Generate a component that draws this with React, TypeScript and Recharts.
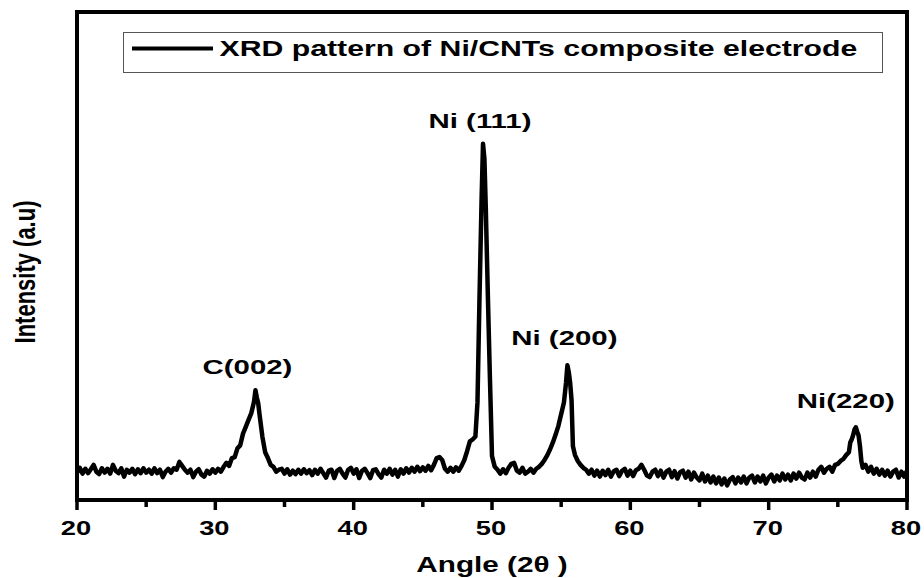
import React from 'react';
import {
    LineChart,
    Line,
    XAxis,
    YAxis,
    Legend,
    ReferenceArea,
    ReferenceDot
} from 'recharts';

// Diffractogram split into scan segments: [2θ (deg), intensity (a.u.)]
const baselineLow: [number, number][] = [
    [20.0, 56], [20.2, 66], [20.4, 54], [20.6, 64], [20.8, 55], [21.0, 63], [21.2, 72], [21.4, 58],
    [21.6, 53], [21.8, 65], [22.0, 56], [22.2, 64], [22.4, 54], [22.6, 72], [22.8, 60], [23.0, 55],
    [23.2, 65], [23.4, 48], [23.6, 62], [23.8, 56], [24.0, 64], [24.2, 53], [24.4, 63], [24.6, 55],
    [24.8, 65], [25.0, 56], [25.2, 62], [25.4, 54], [25.6, 65], [25.8, 55], [26.0, 62], [26.2, 47],
    [26.4, 58], [26.6, 64], [26.8, 56], [27.0, 65], [27.2, 62], [27.4, 78], [27.6, 70], [27.8, 62],
    [28.0, 56], [28.2, 62], [28.4, 47], [28.6, 58], [28.8, 63], [29.0, 52], [29.2, 48], [29.4, 60],
    [29.6, 54], [29.8, 63], [30.0, 56], [30.2, 64], [30.4, 58]
];

const carbonPeak: [number, number][] = [
    [30.6, 68], [30.8, 76], [31.0, 70], [31.2, 86], [31.4, 88], [31.6, 106], [31.8, 112], [32.0, 136],
    [32.2, 150], [32.4, 164], [32.6, 178], [32.8, 202], [32.9, 225], [33.0, 210], [33.1, 198], [33.2, 174],
    [33.4, 130], [33.6, 98], [33.8, 86], [34.0, 72], [34.2, 68], [34.4, 58], [34.6, 62]
];

const baselineMid: [number, number][] = [
    [34.8, 64], [35.0, 54], [35.2, 63], [35.4, 52], [35.6, 60], [35.8, 53], [36.0, 62], [36.2, 54],
    [36.4, 63], [36.6, 55], [36.8, 61], [37.0, 51], [37.2, 62], [37.4, 54], [37.6, 64], [37.8, 55],
    [38.0, 46], [38.2, 60], [38.4, 62], [38.6, 45], [38.8, 60], [39.0, 64], [39.2, 54], [39.4, 46],
    [39.6, 62], [39.8, 66], [40.0, 54], [40.2, 63], [40.4, 45], [40.6, 60], [40.8, 64], [41.0, 55],
    [41.2, 45], [41.4, 61], [41.6, 63], [41.8, 53], [42.0, 46], [42.2, 62], [42.4, 54], [42.6, 64],
    [42.8, 52], [43.0, 62], [43.2, 48], [43.4, 63], [43.6, 54], [43.8, 65], [44.0, 56], [44.2, 66],
    [44.4, 58], [44.6, 68], [44.8, 59], [45.0, 67], [45.2, 60], [45.4, 70], [45.6, 61], [45.8, 72],
    [46.0, 86], [46.2, 88], [46.4, 82], [46.6, 64], [46.8, 58], [47.0, 66], [47.2, 58], [47.4, 67],
    [47.6, 60], [47.8, 70]
];

const nickel111: [number, number][] = [
    [48.0, 82], [48.2, 100], [48.4, 120], [48.6, 124], [48.8, 130], [48.95, 200], [49.1, 420], [49.25, 620],
    [49.35, 730], [49.45, 700], [49.55, 600], [49.7, 420], [49.85, 250], [50.0, 90], [50.2, 68], [50.4, 62],
    [50.6, 54], [50.8, 63], [51.0, 55], [51.2, 66], [51.4, 74], [51.6, 76], [51.8, 60], [52.0, 56],
    [52.2, 66], [52.4, 54], [52.6, 58], [52.8, 64], [53.0, 56], [53.2, 64]
];

const nickel200: [number, number][] = [
    [53.4, 68], [53.6, 74], [53.8, 82], [54.0, 92], [54.2, 104], [54.4, 118], [54.6, 134], [54.8, 152],
    [55.0, 176], [55.2, 200], [55.35, 240], [55.45, 276], [55.55, 262], [55.65, 240], [55.75, 205], [55.85, 110],
    [56.0, 92], [56.2, 80], [56.4, 72], [56.6, 66], [56.8, 62]
];

const baselineHigh: [number, number][] = [
    [57.0, 54], [57.2, 62], [57.4, 50], [57.6, 60], [57.8, 48], [58.0, 60], [58.2, 51], [58.4, 62],
    [58.6, 48], [58.8, 59], [59.0, 62], [59.2, 49], [59.4, 60], [59.6, 64], [59.8, 50], [60.0, 60],
    [60.2, 49], [60.4, 61], [60.6, 64], [60.8, 72], [61.0, 62], [61.2, 50], [61.4, 47], [61.6, 58],
    [61.8, 62], [62.0, 49], [62.2, 60], [62.4, 46], [62.6, 58], [62.8, 62], [63.0, 47], [63.2, 59],
    [63.4, 44], [63.6, 57], [63.8, 60], [64.0, 46], [64.2, 58], [64.4, 42], [64.6, 56], [64.8, 46],
    [65.0, 40], [65.2, 54], [65.4, 38], [65.6, 50], [65.8, 36], [66.0, 48], [66.2, 34], [66.4, 46],
    [66.6, 32], [66.8, 44], [67.0, 30], [67.2, 42], [67.4, 47], [67.6, 34], [67.8, 46], [68.0, 36],
    [68.2, 48], [68.4, 34], [68.6, 46], [68.8, 50], [69.0, 36], [69.2, 48], [69.4, 38], [69.6, 50],
    [69.8, 34], [70.0, 46], [70.2, 52], [70.4, 38], [70.6, 50], [70.8, 40], [71.0, 54], [71.2, 42],
    [71.4, 52], [71.6, 40], [71.8, 54], [72.0, 44], [72.2, 56], [72.4, 46], [72.6, 42], [72.8, 56],
    [73.0, 46], [73.2, 58], [73.4, 48]
];

const nickel220: [number, number][] = [
    [73.6, 62], [73.8, 68], [74.0, 56], [74.2, 64], [74.4, 68], [74.6, 58], [74.8, 72], [75.0, 74],
    [75.2, 80], [75.4, 84], [75.6, 92], [75.8, 98], [75.9, 118], [76.0, 124], [76.1, 132], [76.2, 144],
    [76.3, 149], [76.4, 140], [76.5, 132], [76.6, 110], [76.7, 80], [76.8, 66], [77.0, 72], [77.2, 58],
    [77.4, 68], [77.6, 54], [77.8, 64], [78.0, 52], [78.2, 62], [78.4, 50], [78.6, 60], [78.8, 48],
    [79.0, 58], [79.2, 62], [79.4, 46], [79.6, 58], [79.8, 48], [80.0, 60]
];

const peaks = [
    { name: 'C(002)', angle: 32.9, counts: 225 },
    { name: 'Ni (111)', angle: 49.35, counts: 730 },
    { name: 'Ni (200)', angle: 55.45, counts: 276 },
    { name: 'Ni(220)', angle: 76.3, counts: 149 }
];

const angleTicks = [20, 25, 30, 35, 40, 45, 50, 55, 60, 65, 70, 75, 80];

const seriesName = 'XRD pattern of Ni/CNTs composite electrode';

const data = [
    ...baselineLow, ...carbonPeak, ...baselineMid, ...nickel111,
    ...nickel200, ...baselineHigh, ...nickel220
].map(([angle, intensity]) => ({ angle, intensity }));

const FONT = '"Liberation Sans", Arial, sans-serif';

// bold text, widened horizontally like the original figure export
const Wide = ({ x, y, size, sx = 1.36, anchor = 'middle', rotate = 0, children }: any) => (
    <text
        transform={`translate(${x},${y}) scale(${sx},1)${rotate ? ` rotate(${rotate})` : ''}`}
        textAnchor={anchor}
        fontFamily={FONT}
        fontWeight="bold"
        fontSize={size}
        fill="#000"
    >
        {children}
    </text>
);

// label offsets (px) relative to each peak maximum
const labelNudge: Record<string, [number, number]> = {
    'C(002)': [-8, -16],
    'Ni (111)': [-3, -16],
    'Ni (200)': [-3, -20],
    'Ni(220)': [-10, -19]
};

const PeakLabel = ({ viewBox, text }: any) => {
    const [dx, dy] = labelNudge[text] || [0, -16];
    const cx = viewBox.x + viewBox.width / 2;
    const cy = viewBox.y + viewBox.height / 2;
    return <Wide x={cx + dx} y={cy + dy} size={21} sx={1.4}>{text}</Wide>;
};

const AngleTick = (props: any) => {
    const { x, y, payload } = props;
    const major = payload.value % 10 === 0;
    return (
        <g>
            <line x1={x} x2={x} y1={y} y2={y + (major ? 10 : 7)} stroke="#000" strokeWidth={3.5} />
            {major && <Wide x={x - 1} y={y + 35} size={21} sx={1.3}>{payload.value}</Wide>}
        </g>
    );
};

const XTitle = ({ viewBox }: any) => (
    <Wide x={viewBox.x + viewBox.width / 2} y={viewBox.y + 72} size={22} sx={1.35}>
        Angle (2θ )
    </Wide>
);

const YTitle = ({ viewBox }: any) => (
    <Wide x={viewBox.x - 41} y={272} size={22} sx={1.36} rotate={-90}>
        Intensity (a.u)
    </Wide>
);

const LegendBox = ({ payload }: any) => (
    <div style={{ width: 760, height: 41, border: '1.5px solid #555', boxSizing: 'border-box', background: '#fff' }}>
        <svg width={757} height={38} style={{ display: 'block' }}>
            <line x1={8} x2={89} y1={15.5} y2={15.5} stroke="#000" strokeWidth={4} />
            <Wide x={95.5} y={22.5} size={22} sx={1.375} anchor="start">
                {payload && payload[0] ? payload[0].value : seriesName}
            </Wide>
        </svg>
    </div>
);

export default function App() {
    return (
        <div style={{ position: 'absolute', left: 0, top: 0, background: '#fff' }}>
            <LineChart
                width={924}
                height={578}
                data={data}
                margin={{ top: 12, right: 17, left: 76, bottom: 48 }}
            >
                <XAxis
                    type="number"
                    dataKey="angle"
                    domain={[20, 80]}
                    ticks={angleTicks}
                    interval={0}
                    height={30}
                    axisLine={false}
                    tickLine={false}
                    tickSize={0}
                    tickMargin={0}
                    tick={<AngleTick />}
                    allowDataOverflow
                    label={<XTitle />}
                />
                <YAxis
                    type="number"
                    domain={[0, 1000]}
                    width={1}
                    tick={false}
                    tickLine={false}
                    axisLine={false}
                    allowDataOverflow
                    label={<YTitle />}
                />
                <ReferenceArea
                    x1={20}
                    x2={80}
                    y1={0}
                    y2={1000}
                    fill="none"
                    stroke="#000"
                    strokeWidth={4}
                    fillOpacity={0}
                    strokeOpacity={1}
                />
                <Legend
                    layout="horizontal"
                    verticalAlign="middle"
                    align="center"
                    wrapperStyle={{ left: 123, top: 32, width: 760, height: 41 }}
                    content={<LegendBox />}
                />
                <Line
                    type="linear"
                    dataKey="intensity"
                    name={seriesName}
                    stroke="#000"
                    strokeWidth={4.5}
                    strokeLinejoin="round"
                    dot={false}
                    isAnimationActive={false}
                />
                {peaks.map((p) => (
                    <ReferenceDot
                        key={p.name}
                        x={p.angle}
                        y={p.counts}
                        r={0}
                        fill="none"
                        stroke="none"
                        label={<PeakLabel text={p.name} />}
                    />
                ))}
            </LineChart>
        </div>
    );
}
